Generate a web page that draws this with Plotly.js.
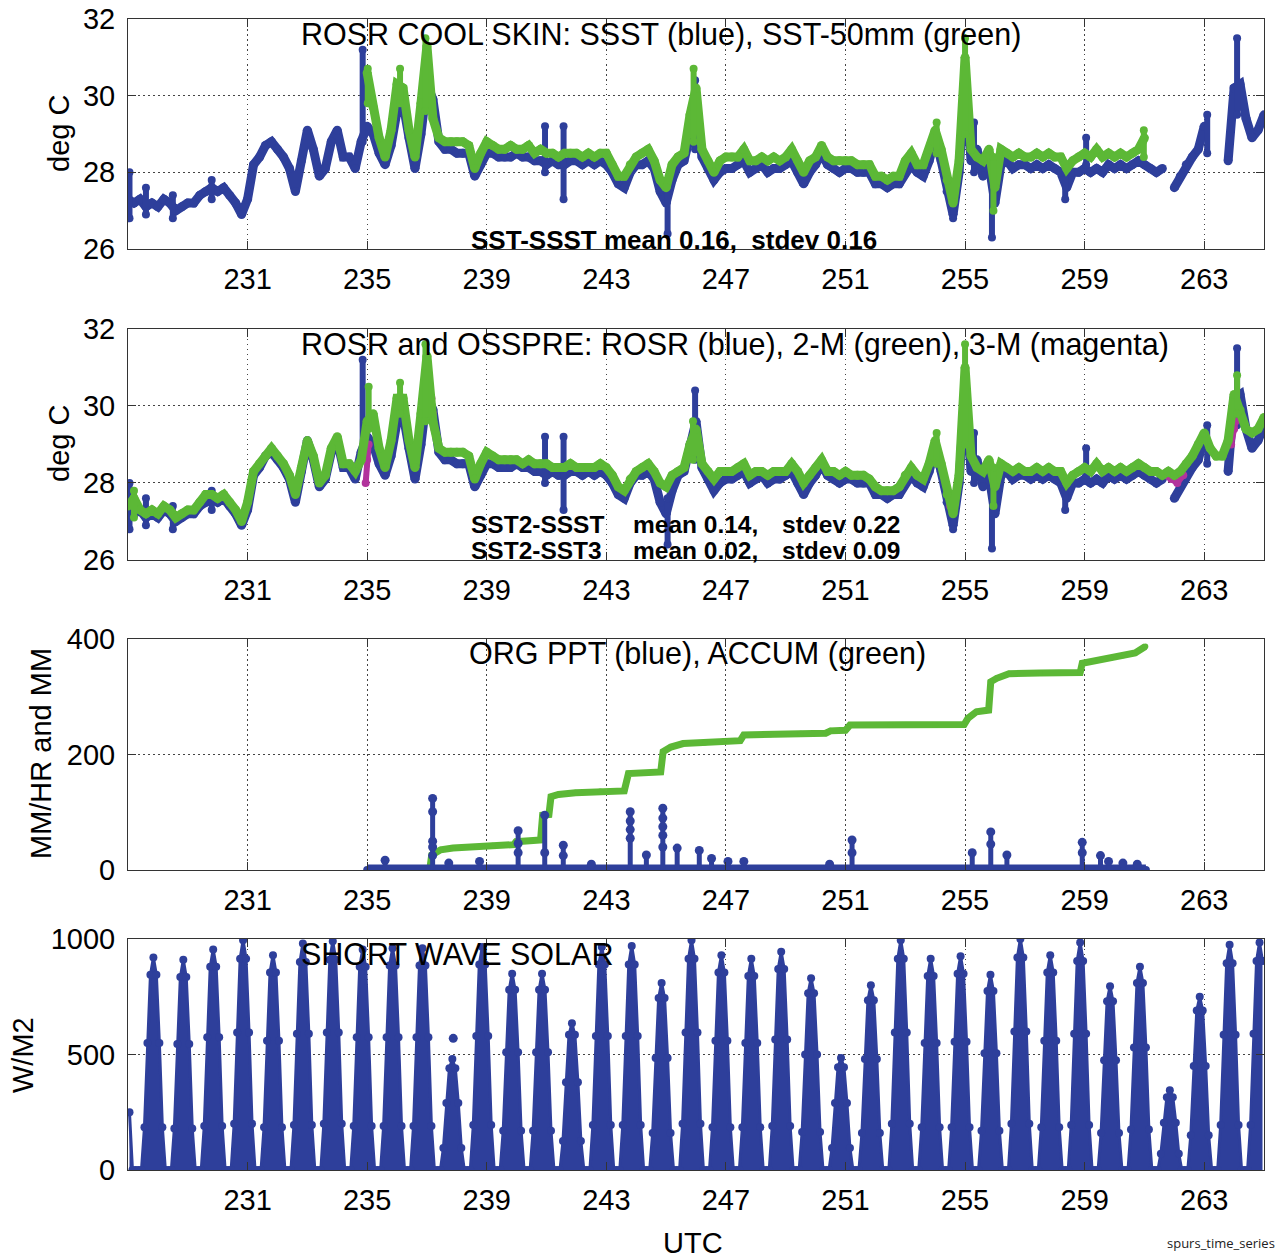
<!DOCTYPE html>
<html>
<head>
<meta charset="utf-8">
<script src="https://cdn.plot.ly/plotly-3.0.1.min.js"></script>
<style>html,body{margin:0;padding:0;background:#fff;}#chart{width:1280px;height:1259px;}</style>
</head>
<body>
<div id="chart"></div>
<script>
// ---------------- DATA ----------------
// time axis (UTC day of year), regular sampling of the band series
const DT = 0.2;
const T_SSST = 227.0;   // start of SSST / ROSR and 2-M series
const T_SST50 = 235.0;  // start of SST-50mm series
const xTickVals = [231, 235, 239, 243, 247, 251, 255, 259, 263];

// ROSR cool-skin SSST (blue), 0.2-day steps from 227.0 to 265.0
const ssst = [
  27.3, 27.2, 27.3, 27.1, 27.2,
  27.1, 27.3, 27.2, 27.0, 27.1,
  27.2, 27.2, 27.4, 27.5, 27.6,
  27.5, 27.6, 27.4, 27.2, 26.9,
  27.3, 28.2, 28.4, 28.7, 28.8,
  28.6, 28.4, 28.1, 27.5, 28.3,
  29.1, 28.6, 27.9, 28.1, 28.8,
  29.1, 28.4, 28.4, 28.1, 28.8,
  29.2, 29.0, 28.5, 28.2, 28.7,
  29.6, 29.8, 28.9, 28.1, 29.0,
  30.3, 29.9, 28.8, 28.6, 28.6,
  28.5, 28.5, 28.5, 27.9, 28.2,
  28.5, 28.5, 28.4, 28.4, 28.4,
  28.5, 28.4, 28.4, 28.3, 28.3,
  28.2, 28.3, 28.2, 28.2, 28.3,
  28.3, 28.2, 28.3, 28.2, 28.3,
  28.2, 28.0, 27.7, 27.6, 28.0,
  28.2, 28.2, 28.3, 28.1, 27.5,
  27.2, 27.8, 28.2, 28.3, 29.0,
  29.6, 28.4, 28.1, 27.8, 28.0,
  28.1, 28.1, 28.2, 28.3, 28.0,
  28.1, 28.2, 28.0, 28.1, 28.1,
  28.2, 28.3, 28.0, 27.7, 28.0,
  28.2, 28.5, 28.2, 28.1, 28.0,
  28.1, 28.1, 28.0, 28.0, 28.0,
  27.7, 27.7, 27.6, 27.7, 27.7,
  28.0, 28.2, 28.0, 27.9, 28.3,
  28.9, 28.3, 27.5, 26.9, 28.0,
  30.5, 28.3, 28.6, 27.9, 28.2,
  27.2, 28.2, 28.3, 28.1, 28.2,
  28.2, 28.1, 28.2, 28.1, 28.2,
  28.1, 28.0, 27.6, 28.0, 28.0,
  28.1, 28.0, 28.1, 28.0, 28.2,
  28.1, 28.2, 28.1, 28.2, 28.3,
  28.2, 28.1, 28.0, 28.1, null,
  27.6, 27.9, 28.2, 28.4, 28.6,
  29.2, null, null, null, 28.3,
  30.2, 30.3, 29.4, 28.9, 29.1,
  29.5
];
// short bursts of SSST that the 0.2-day sampling misses: time, low, high
const ssstBurstT  = [227.05, 227.6, 228.5, 229.8, 234.85, 240.95, 241.57, 245.05, 245.97, 254.6, 255.3, 255.9, 258.35, 259.05, 263.1, 264.1];
const ssstBurstLo = [26.8, 26.9, 26.8, 27.3, 28.8, 28.0, 27.3, 26.4, 28.6, 26.8, 28.0, 26.3, 27.3, 28.2, 28.5, 29.5];
const ssstBurstHi = [28.0, 27.6, 27.4, 27.8, 31.2, 29.2, 29.2, 27.6, 30.4, 27.5, 29.3, 27.8, 28.0, 28.9, 29.5, 31.5];

// SST-50mm (green), 0.2-day steps from 235.0 to 261.0
const sst50 = [
  30.6, 29.7, 28.9, 28.4, 29.1,
  30.3, 30.2, 29.1, 28.4, 29.8,
  31.3, 29.4, 28.9, 28.8, 28.8,
  28.8, 28.8, 28.7, 28.1, 28.5,
  28.8, 28.7, 28.6, 28.6, 28.7,
  28.6, 28.6, 28.7, 28.5, 28.6,
  28.5, 28.5, 28.4, 28.5, 28.5,
  28.5, 28.4, 28.5, 28.4, 28.5,
  28.5, 28.2, 27.9, 27.9, 28.2,
  28.4, 28.5, 28.6, 28.3, 27.8,
  27.6, 28.2, 28.4, 28.5, 29.5,
  30.2, 28.6, 28.3, 28.0, 28.3,
  28.4, 28.4, 28.4, 28.6, 28.3,
  28.3, 28.4, 28.3, 28.4, 28.3,
  28.4, 28.6, 28.3, 28.0, 28.3,
  28.4, 28.7, 28.4, 28.3, 28.3,
  28.3, 28.3, 28.2, 28.2, 28.2,
  27.9, 27.9, 27.8, 27.9, 27.9,
  28.3, 28.5, 28.2, 28.2, 28.6,
  29.1, 28.6, 27.8, 27.2, 28.3,
  31.0, 28.6, 28.4, 28.3, 28.6,
  27.6, 28.6, 28.5, 28.4, 28.5,
  28.4, 28.4, 28.5, 28.4, 28.5,
  28.4, 28.4, 28.1, 28.3, 28.4,
  28.5, 28.4, 28.6, 28.4, 28.5,
  28.4, 28.5, 28.4, 28.5, 28.6,
  28.9
];
const sst50BurstT  = [235.02, 236.1, 236.95, 245.92, 254.05, 255.0, 255.95, 260.98];
const sst50BurstLo = [29.8, 29.8, 29.6, 28.8, 28.5, 29.0, 27.0, 28.4];
const sst50BurstHi = [30.7, 30.7, 31.5, 30.7, 29.3, 31.5, 28.4, 29.1];

// OSSPRE 2-M (green), 0.2-day steps from 227.0 to 265.0
const sst2m = [
  27.4, 27.6, 27.3, 27.2, 27.3,
  27.2, 27.4, 27.3, 27.1, 27.2,
  27.3, 27.3, 27.5, 27.7, 27.7,
  27.6, 27.7, 27.5, 27.3, 27.0,
  27.5, 28.3, 28.5, 28.7, 28.9,
  28.7, 28.5, 28.2, 27.7, 28.4,
  29.1, 28.7, 28.0, 28.2, 28.9,
  29.2, 28.5, 28.5, 28.3, 28.6,
  29.6, 29.8, 28.9, 28.4, 29.1,
  30.2, 30.2, 29.1, 28.4, 29.8,
  31.3, 29.6, 28.9, 28.8, 28.8,
  28.8, 28.8, 28.7, 28.1, 28.5,
  28.8, 28.7, 28.6, 28.6, 28.6,
  28.6, 28.5, 28.6, 28.5, 28.5,
  28.5, 28.4, 28.4, 28.4, 28.5,
  28.4, 28.4, 28.4, 28.4, 28.5,
  28.4, 28.2, 27.9, 27.8, 28.1,
  28.3, 28.4, 28.5, 28.3, 28.0,
  27.9, 28.2, 28.3, 28.4, 29.0,
  29.4, 28.5, 28.3, 28.1, 28.3,
  28.3, 28.3, 28.4, 28.5, 28.2,
  28.3, 28.3, 28.2, 28.3, 28.3,
  28.3, 28.5, 28.3, 28.0, 28.2,
  28.4, 28.6, 28.3, 28.3, 28.2,
  28.3, 28.2, 28.2, 28.2, 28.1,
  27.9, 27.8, 27.8, 27.8, 27.9,
  28.2, 28.4, 28.2, 28.1, 28.5,
  29.1, 28.5, 27.7, 27.2, 28.2,
  31.0, 28.7, 28.4, 28.3, 28.6,
  27.9, 28.5, 28.4, 28.3, 28.4,
  28.3, 28.3, 28.4, 28.3, 28.4,
  28.3, 28.3, 28.0, 28.2, 28.3,
  28.4, 28.3, 28.5, 28.3, 28.4,
  28.3, 28.4, 28.3, 28.4, 28.5,
  28.4, 28.3, 28.3, 28.2, 28.3,
  28.2, 28.3, 28.5, 28.7, 29.0,
  29.3, 28.9, 28.7, 28.7, 29.1,
  30.3, 29.9, 29.4, 29.3, 29.4,
  29.7
];
const sst2mBurstT  = [227.2, 235.05, 236.1, 236.95, 245.9, 254.05, 255.0, 255.95, 264.1];
const sst2mBurstLo = [27.1, 29.4, 29.8, 29.6, 28.6, 28.5, 29.0, 27.4, 29.8];
const sst2mBurstHi = [27.8, 30.5, 30.6, 31.6, 29.6, 29.3, 31.6, 28.4, 30.8];

// OSSPRE 3-M (magenta): only the stretches where it shows from under 2-M
const sst3mT = [234.95, 235.0, 235.05, null, 237.15, 237.2, 237.25, null, 245.95, 246.0, null,
                254.5, 254.6, null, 254.97, 255.0, null, 261.7, 261.9, 262.1, 262.3, null, 263.9, 264.0, 264.05];
const sst3mV = [28.0, 28.6, 29.0, null, 30.2, 29.8, 29.4, null, 28.8, 29.0, null,
                27.4, 27.3, null, 29.8, 30.2, null, 28.2, 28.1, 28.0, 28.2, null, 29.0, 29.4, 29.6];

// ORG rain gauge: accumulation (green) and rain-rate events (blue)
const accumT = [235.0, 237.1, 237.16, 237.3, 237.46, 237.87, 238.5, 239.2, 239.9, 239.98, 240.8, 240.87, 241.08, 241.15,
                241.4, 241.97, 242.8, 243.6, 243.74, 244.82, 244.9, 245.16, 245.57, 246.3, 246.93, 247.48, 247.6, 248.5,
                249.5, 250.34, 250.5, 251.0, 251.15, 252.5, 254.0, 254.97, 255.1, 255.38, 255.79, 255.86, 256.06, 256.47,
                257.5, 258.85, 258.92, 259.3, 259.87, 260.3, 260.69, 261.03];
const accumMM = [1, 3, 26, 32, 35, 38, 40, 42, 44, 49, 52, 95, 96, 127,
                 131, 134, 136, 137, 167, 170, 205, 213, 219, 221, 223, 224, 234, 235,
                 236, 237, 241, 242, 251, 251, 251, 252, 263, 274, 277, 326, 332, 340,
                 341, 342, 358, 362, 367, 372, 376, 387];
const pptRecordStart = 235.0, pptRecordEnd = 261.05;   // rate ~0 between events
const pptEventT = [235.6, 237.19, 237.73, 238.76, 240.05, 240.94, 241.56, 242.5, 243.8, 244.34, 244.89, 245.37, 246.11,
                   246.52, 247.07, 247.6, 250.47, 251.22, 255.24, 255.86, 256.4, 258.92, 259.53, 259.8, 260.28, 260.76];
const pptEventRates = [[17], [124, 101, 50, 40, 25], [12], [15], [68, 46, 30], [95, 30], [43, 25], [10],
                       [101, 85, 70, 55], [26], [107, 90, 75, 60, 40], [38], [34], [20], [15], [15], [10],
                       [52, 30], [30], [66, 45], [26], [48, 30], [25], [15], [12], [10]];

// Short wave solar, 0.1-day steps from 227.05 (rows = one UTC day: .05 .15 ... .95)
const S_T0 = 227.05, S_DT = 0.1;
const solar = [
  250,   0, 0, 0, 0, 185, 550, 845,  920, 845,
  550, 185, 0, 0, 0, 180, 545, 835,  910, 835,
  545, 180, 0, 0, 0, 190, 575, 880,  955, 880,
  575, 190, 0, 0, 0, 200, 595, 915,  995, 915,
  595, 200, 0, 0, 0, 185, 560, 855,  930, 855,
  560, 185, 0, 0, 0, 195, 590, 900,  980, 900,
  590, 195, 0, 0, 0, 200, 595, 910,  990, 910,
  595, 200, 0, 0, 0, 190, 575, 880,  955, 880,
  575, 190, 0, 0, 0, 190, 575, 885,  960, 885,
  575, 190, 0, 0, 0, 190, 575, 885,  960, 885,
  575, 190, 0, 0, 0,  95, 290, 440,  480, 440,
  290,  95, 0, 0, 0, 195, 580, 890,  965, 890,
  580, 195, 0, 0, 0, 170, 510, 780,  850, 780,
  510, 170, 0, 0, 0, 170, 510, 780,  850, 780,
  510, 170, 0, 0, 0, 125, 380, 585,  635, 585,
  380, 125, 0, 0, 0, 195, 580, 890,  965, 890,
  580, 195, 0, 0, 0, 195, 580, 890,  970, 890,
  580, 195, 0, 0, 0, 160, 485, 745,  810, 745,
  485, 160, 0, 0, 0, 200, 595, 915,  995, 915,
  595, 200, 0, 0, 0, 185, 560, 855,  930, 855,
  560, 185, 0, 0, 0, 185, 550, 840,  915, 840,
  550, 185, 0, 0, 0, 190, 565, 870,  945, 870,
  565, 190, 0, 0, 0, 165, 500, 765,  830, 765,
  500, 165, 0, 0, 0,  95, 290, 445,  485, 445,
  290,  95, 0, 0, 0, 160, 480, 735,  800, 735,
  480, 160, 0, 0, 0, 200, 595, 915,  995, 915,
  595, 200, 0, 0, 0, 185, 550, 840,  915, 840,
  550, 185, 0, 0, 0, 185, 555, 850,  925, 850,
  555, 185, 0, 0, 0, 170, 505, 775,  845, 775,
  505, 170, 0, 0, 0, 200, 600, 920, 1000, 920,
  600, 200, 0, 0, 0, 185, 560, 855,  930, 855,
  560, 185, 0, 0, 0, 195, 590, 905,  985, 905,
  590, 195, 0, 0, 0, 160, 475, 730,  795, 730,
  475, 160, 0, 0, 0, 175, 530, 810,  880, 810,
  530, 175, 0, 0, 0,  70, 205, 315,  345, 315,
  205,  70, 0, 0, 0, 150, 450, 690,  750, 690,
  450, 150, 0, 0, 0, 195, 585, 895,  975, 895,
  585, 195, 0, 0, 0, 195, 590, 905,  985, 905
];
const solarExtraT = [237.88];
const solarExtraV = [570];

// ---------------- STYLE / BUILD ----------------
const BLUE = '#2e3f9b', GREEN = '#5cb836', MAGENTA = '#b2339c';
const grid = (t0, dt, n) => Array.from({length: n}, (_, i) => +(t0 + i * dt).toFixed(3));
function bursts(t, lo, hi) {
  const x = [], y = [];
  t.forEach((v, i) => { x.push(v, v, null); y.push(lo[i], hi[i], null); });
  return {x, y};
}
function band(x, y, color, xa, ya, lw, ms) {
  return {type: 'scatter', mode: 'lines+markers', x, y, xaxis: xa, yaxis: ya,
          line: {color, width: lw || 9}, marker: {color, size: ms || 9}, connectgaps: false,
          hoverinfo: 'skip', showlegend: false};
}
const tSSST = grid(T_SSST, DT, ssst.length);
const t50 = grid(T_SST50, DT, sst50.length);
const t2m = grid(T_SSST, DT, sst2m.length);
const bB = bursts(ssstBurstT, ssstBurstLo, ssstBurstHi);
const b50 = bursts(sst50BurstT, sst50BurstLo, sst50BurstHi);
const b2m = bursts(sst2mBurstT, sst2mBurstLo, sst2mBurstHi);

// precipitation stems
const stemX = [], stemY = [], dotX = [], dotY = [];
pptEventT.forEach((t, i) => {
  const r = pptEventRates[i];
  stemX.push(t, t, null); stemY.push(0, Math.max(...r), null);
  r.forEach(v => { dotX.push(t); dotY.push(v); });
});

const traces = [
  band(tSSST, ssst, BLUE, 'x', 'y'),
  band(bB.x, bB.y, BLUE, 'x', 'y', 6, 8),
  band(t50, sst50, GREEN, 'x', 'y'),
  band(b50.x, b50.y, GREEN, 'x', 'y', 6, 8),

  band(tSSST, ssst, BLUE, 'x2', 'y2'),
  band(bB.x, bB.y, BLUE, 'x2', 'y2', 6, 8),
  band(sst3mT, sst3mV, MAGENTA, 'x2', 'y2', 6, 8),
  band(t2m, sst2m, GREEN, 'x2', 'y2'),
  band(b2m.x, b2m.y, GREEN, 'x2', 'y2', 6, 8),

  band(accumT, accumMM, GREEN, 'x3', 'y3', 7, 6),
  band([pptRecordStart, pptRecordEnd], [0, 0], BLUE, 'x3', 'y3', 11, 8),
  band(stemX, stemY, BLUE, 'x3', 'y3', 5, 1),
  {type: 'scatter', mode: 'markers', x: dotX, y: dotY, xaxis: 'x3', yaxis: 'y3',
   marker: {color: BLUE, size: 9}, hoverinfo: 'skip', showlegend: false},

  {type: 'scatter', mode: 'lines+markers', x: grid(S_T0, S_DT, solar.length), y: solar, xaxis: 'x4', yaxis: 'y4',
   fill: 'tozeroy', fillcolor: BLUE, line: {color: BLUE, width: 3}, marker: {color: BLUE, size: 8},
   hoverinfo: 'skip', showlegend: false},
  {type: 'scatter', mode: 'markers', x: solarExtraT, y: solarExtraV, xaxis: 'x4', yaxis: 'y4',
   marker: {color: BLUE, size: 9}, hoverinfo: 'skip', showlegend: false}
];

const TICKFONT = {family: 'Liberation Sans, Arial, sans-serif', size: 29, color: '#000'};
function axis(extra) {
  return Object.assign({
    showline: true, linecolor: '#333', linewidth: 1, mirror: 'ticks',
    ticks: 'inside', ticklen: 8, tickwidth: 1, tickcolor: '#333',
    showgrid: true, gridcolor: '#444', griddash: '1.5px,3.5px', gridwidth: 1,
    zeroline: false, tickfont: TICKFONT, fixedrange: true
  }, extra);
}
function xa(anchor) {
  return axis({range: [227, 265], tickmode: 'array', tickvals: xTickVals, ticktext: xTickVals.map(String),
               anchor, domain: [0, 1], ticklabelstandoff: 4});
}
function ya(anchor, dom, range, dtick) {
  return axis({range, dtick, tick0: range[0], anchor, domain: dom, ticklabelstandoff: 6});
}

// pixel -> paper helpers for text placement
const L = 128, PW = 1136, B = 1170, PH = 1151;
const px = v => (v - L) / PW, py = v => (B - v) / PH;
const F = 'Liberation Sans, Arial, sans-serif';
function txt(text, x, y, size, opts) {
  return Object.assign({text, x: px(x), y: py(y), xref: 'paper', yref: 'paper', showarrow: false,
    xanchor: 'left', yanchor: 'middle', borderpad: 0, font: {family: F, size, color: '#000'}}, opts || {});
}
const annotations = [
  txt('ROSR COOL SKIN: SSST (blue), SST-50mm (green)', 300, 34, 30.5),
  txt('ROSR and OSSPRE: ROSR (blue), 2-M (green), 3-M (magenta)', 300, 344, 30.5),
  txt('ORG PPT (blue), ACCUM (green)', 468, 654, 30.5),
  txt('SHORT WAVE SOLAR', 300, 954, 30.5),
  txt('<b>SST-SSST mean 0.16,\u00a0\u00a0stdev 0.16</b>', 470, 240, 26),
  txt('<b>SST2-SSST</b>', 470, 524, 24.5),
  txt('<b>mean 0.14,</b>', 632, 524, 24.5),
  txt('<b>stdev 0.22</b>', 781, 524, 24.5),
  txt('<b>SST2-SST3</b>', 470, 550, 24.5),
  txt('<b>mean 0.02,</b>', 632, 550, 24.5),
  txt('<b>stdev 0.09</b>', 781, 550, 24.5),
  txt('deg C', 59, 134, 29, {xanchor: 'center', textangle: -90}),
  txt('deg C', 59, 444, 29, {xanchor: 'center', textangle: -90}),
  txt('MM/HR and MM', 41, 754, 29, {xanchor: 'center', textangle: -90}),
  txt('W/M2', 23, 1055, 29, {xanchor: 'center', textangle: -90}),
  txt('UTC', 693, 1243, 29, {xanchor: 'center'}),
  txt('spurs_time_series', 1276, 1243, 13, {xanchor: 'right', font: {family: 'Open Sans, sans-serif', size: 13, color: '#222'}})
];

const layout = {
  width: 1280, height: 1259,
  margin: {l: L, r: 1280 - L - PW, t: 19, b: 1259 - B, pad: 0},
  paper_bgcolor: '#fff', plot_bgcolor: '#fff', showlegend: false,
  xaxis: xa('y'), xaxis2: xa('y2'), xaxis3: xa('y3'), xaxis4: xa('y4'),
  yaxis: ya('x', [0.8002, 1.0], [26, 32], 2),
  yaxis2: ya('x2', [0.530, 0.7307], [26, 32], 2),
  yaxis3: ya('x3', [0.2606, 0.4613], [0, 400], 200),
  yaxis4: ya('x4', [0, 0.2007], [0, 1000], 500),
  annotations
};
Plotly.newPlot('chart', traces, layout, {displayModeBar: false, staticPlot: true});
</script>
</body>
</html>
